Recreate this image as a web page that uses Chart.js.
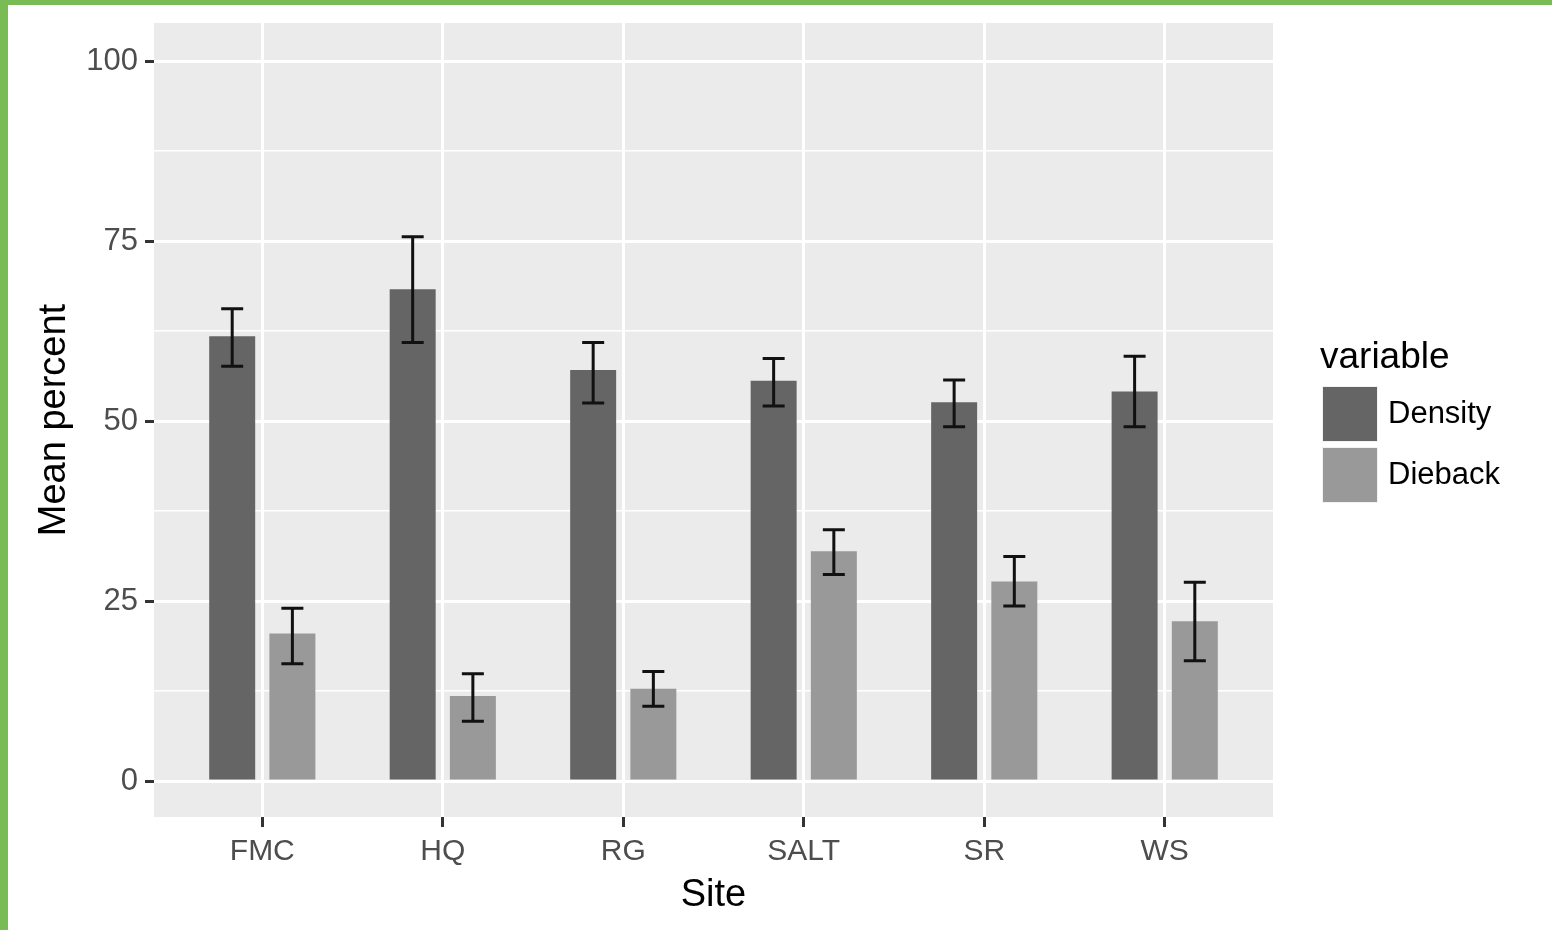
<!DOCTYPE html>
<html>
<head>
<meta charset="utf-8">
<script src="https://cdn.jsdelivr.net/npm/chart.js@4.4.1/dist/chart.umd.min.js"></script>
<style>
  html, body { margin: 0; padding: 0; background: #fff; }
  #wrap {
    width: 1544px; height: 925px;
    border-top: 5px solid #79bb55;
    border-left: 8px solid #79bb55;
  }
</style>
</head>
<body>
<div id="wrap"><canvas id="myCanvas" width="1544" height="925"></canvas></div>
<script>
// dati
let sites = ["FMC", "HQ", "RG", "SALT", "SR", "WS"];

let density   = [61.8, 68.3, 57.1, 55.6, 52.6, 54.1];
let densityLo = [57.6, 60.9, 52.5, 52.1, 49.2, 49.2];
let densityHi = [65.6, 75.6, 60.9, 58.7, 55.7, 59.0];

let dieback   = [20.5, 11.8, 12.8, 31.9, 27.7, 22.2];
let diebackLo = [16.3, 8.3, 10.4, 28.7, 24.3, 16.7];
let diebackHi = [24.0, 14.9, 15.2, 34.9, 31.2, 27.6];

let yTicks = [0, 12.5, 25, 37.5, 50, 62.5, 75, 87.5, 100];

let font = "'Liberation Sans', Arial, sans-serif";

// sfondo grigio del pannello
const panelBg = {
    id: 'panelBg',
    beforeDraw(chart) {
        const { ctx, chartArea: a } = chart;
        ctx.save();
        ctx.fillStyle = '#ebebeb';
        ctx.fillRect(a.left, a.top, a.right - a.left, a.bottom - a.top);
        ctx.restore();
    }
};

// barre di errore
const errorBars = {
    id: 'errorBars',
    afterDatasetsDraw(chart) {
        const ctx = chart.ctx;
        const y = chart.scales.y;
        ctx.save();
        ctx.strokeStyle = '#111';
        ctx.lineWidth = 3;
        chart.data.datasets.forEach((ds, i) => {
            const meta = chart.getDatasetMeta(i);
            meta.data.forEach((bar, j) => {
                const top = y.getPixelForValue(ds.hi[j]);
                const bot = y.getPixelForValue(ds.lo[j]);
                ctx.beginPath();
                ctx.moveTo(bar.x, top); ctx.lineTo(bar.x, bot);
                ctx.moveTo(bar.x - 11, top); ctx.lineTo(bar.x + 11, top);
                ctx.moveTo(bar.x - 11, bot); ctx.lineTo(bar.x + 11, bot);
                ctx.stroke();
            });
        });
        ctx.restore();
    }
};

// legenda stile ggplot
const ggLegend = {
    id: 'ggLegend',
    afterDraw(chart) {
        const ctx = chart.ctx;
        const x0 = chart.chartArea.right + 47;
        ctx.save();
        ctx.fillStyle = '#000';
        ctx.textBaseline = 'middle';
        ctx.textAlign = 'left';
        ctx.font = "37px " + font;
        ctx.fillText('variable', x0, 353);
        ctx.font = "31px " + font;
        chart.data.datasets.forEach((ds, i) => {
            const ky = 381 + i * 61;
            ctx.fillStyle = '#f2f2f2';
            ctx.fillRect(x0 + 2, ky, 56, 56);
            ctx.fillStyle = ds.backgroundColor;
            ctx.fillRect(x0 + 3, ky + 1, 54, 54);
            ctx.fillStyle = '#000';
            ctx.fillText(ds.label, x0 + 68, ky + 28);
        });
        ctx.restore();
    }
};

let chart = new Chart(document.getElementById("myCanvas").getContext('2d'), {
    type: 'bar',
    data: {
        datasets: [{
            label: "Density",
            data: sites.map((s, i) => ({ x: i + 1, y: density[i] })),
            lo: densityLo,
            hi: densityHi,
            backgroundColor: '#656565'
        }, {
            label: "Dieback",
            data: sites.map((s, i) => ({ x: i + 1, y: dieback[i] })),
            lo: diebackLo,
            hi: diebackHi,
            backgroundColor: '#999999'
        }]
    },
    options: {
        responsive: false,
        animation: false,
        categoryPercentage: 0.667,
        barPercentage: 0.764,
        layout: { padding: { top: 18, right: 279, left: 0, bottom: 0 } },
        plugins: {
            legend: { display: false },
            tooltip: { enabled: false }
        },
        scales: {
            x: {
                type: 'linear',
                min: 0.4,
                max: 6.6,
                offset: false,
                afterBuildTicks: (s) => { s.ticks = sites.map((n, i) => ({ value: i + 1 })); },
                afterFit: (s) => { s.height = 113; s.paddingLeft = 0; s.paddingRight = 0; },
                border: { display: false },
                grid: { offset: false, color: '#ffffff', lineWidth: 3, tickColor: '#333', tickWidth: 3, tickLength: 10 },
                ticks: {
                    autoSkip: false,
                    padding: 7,
                    color: '#4d4d4d',
                    font: { family: font, size: 30 },
                    callback: (v) => sites[v - 1]
                },
                title: {
                    display: true,
                    text: 'Site',
                    color: '#000',
                    font: { family: font, size: 38 },
                    padding: { top: 0, bottom: 12 }
                }
            },
            y: {
                min: -5,
                max: 105.3,
                afterBuildTicks: (s) => { s.ticks = yTicks.map(v => ({ value: v })); },
                afterFit: (s) => { s.width = 146; s.paddingTop = 0; s.paddingBottom = 0; },
                border: { display: false },
                grid: {
                    color: '#ffffff',
                    lineWidth: (c) => c.tick && c.tick.value % 25 === 0 ? 3 : 1.5,
                    tickColor: (c) => c.tick && c.tick.value % 25 === 0 ? '#333' : 'rgba(0,0,0,0)',
                    tickWidth: 3,
                    tickLength: 9
                },
                ticks: {
                    autoSkip: false,
                    padding: 7,
                    color: '#4d4d4d',
                    font: { family: font, size: 31 },
                    callback: (v) => v % 25 === 0 ? v : ''
                },
                title: {
                    display: true,
                    text: 'Mean percent',
                    color: '#000',
                    font: { family: font, size: 38 },
                    padding: { top: 24, bottom: 0 }
                }
            }
        }
    },
    plugins: [panelBg, errorBars, ggLegend]
});
</script>
</body>
</html>
